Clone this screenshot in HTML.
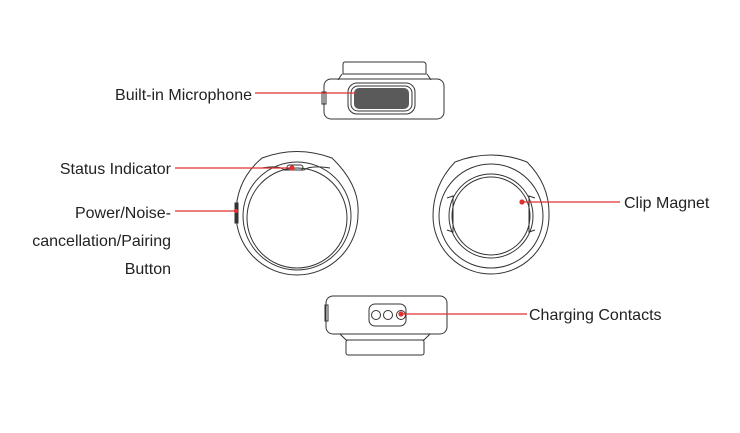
<!DOCTYPE html>
<html><head><style>
body{margin:0;background:#fff}
svg{display:block}
text{font-family:"Liberation Sans",sans-serif;font-size:16px;fill:#222}
</style></head><body>
<svg width="740" height="433" viewBox="0 0 740 433">
<g fill="none" stroke="#333" stroke-width="1">
<path d="M345 62 H423 Q426 62 426 65 V74 H343 V65 Q343 62 345 62Z"/>
<path d="M342 74 L338 80 M427 74 L431 80"/>
<rect x="324" y="79" width="120" height="40" rx="7"/>
<rect x="348" y="83" width="67" height="31" rx="9"/>
<rect x="351" y="86" width="61" height="25" rx="7"/>
<rect x="322" y="92" width="4" height="12"/>
</g>
<rect x="354" y="88" width="55" height="21" rx="5" fill="#5a5a5a"/>
<g fill="none" stroke="#333" stroke-width="1">
<path d="M262 158 Q297 145 332 158 Q360 185 358 214 A61 61 0 1 1 236 214 Q236 180 262 158Z"/>
<circle cx="297" cy="216" r="54"/>
<circle cx="297" cy="218" r="50"/>
<path d="M262 168 Q280 165 284 170 L304 170 Q310 165 330 168"/>
<rect x="287" y="165" width="16" height="5" rx="2.5"/>
<rect x="235" y="203" width="3" height="20" fill="#333"/>
<path d="M455 162 Q491 148 527 162 Q550 185 549 216 A58 58 0 1 1 433 216 Q433 185 455 162Z"/>
<circle cx="491" cy="216" r="52"/>
<circle cx="491" cy="216" r="42"/>
<circle cx="491" cy="216" r="39"/>
<path d="M447 198 L453 196 V232 L447 230 M535 198 L529 196 V232 L535 230"/>
<rect x="326" y="296" width="121" height="38" rx="7"/>
<path d="M340 334 L346 340 H424 L430 334"/>
<rect x="346" y="340" width="78" height="15" rx="2"/>
<rect x="369" y="304" width="37" height="22" rx="6"/>
<circle cx="376" cy="315" r="4.5"/><circle cx="388" cy="315" r="4.5"/><circle cx="401" cy="315" r="4.5"/>
<rect x="325" y="305" width="3" height="16"/>
</g>
<g stroke="#e03030" stroke-width="1.2" fill="#e03030">
<line x1="255" y1="93" x2="356" y2="93"/>
<line x1="175" y1="168" x2="292" y2="168"/><circle cx="292" cy="168" r="2"/>
<line x1="175" y1="211" x2="236" y2="211"/><circle cx="236" cy="211" r="1.5"/>
<line x1="522" y1="202" x2="620" y2="202"/><circle cx="522" cy="202" r="2"/>
<line x1="401" y1="314" x2="527" y2="314"/><circle cx="401" cy="314" r="2"/>
</g>
<text x="252" y="100" text-anchor="end">Built-in Microphone</text>
<text x="171" y="174" text-anchor="end">Status Indicator</text>
<text x="171" y="218" text-anchor="end">Power/Noise-</text>
<text x="171" y="246" text-anchor="end">cancellation/Pairing</text>
<text x="171" y="274" text-anchor="end">Button</text>
<text x="624" y="208">Clip Magnet</text>
<text x="529" y="320">Charging Contacts</text>
</svg>
</body></html>
